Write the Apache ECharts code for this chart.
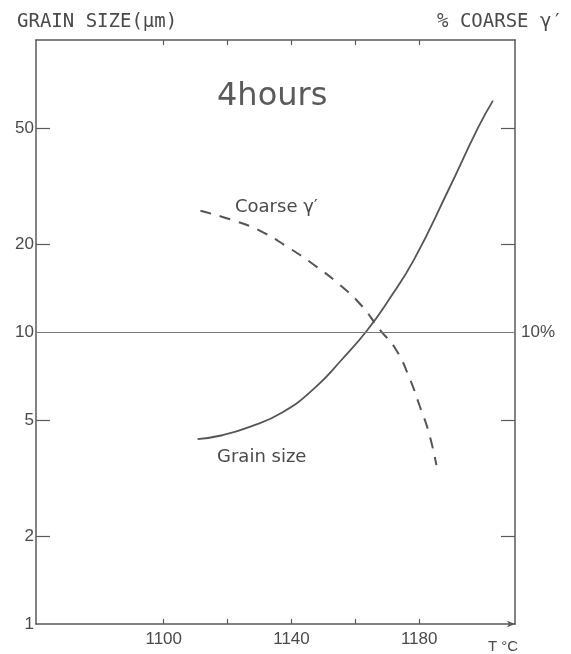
<!DOCTYPE html>
<html><head><meta charset="utf-8">
<script src="https://cdn.jsdelivr.net/npm/echarts@6/dist/echarts.min.js"></script>
<style>html,body{margin:0;padding:0;background:#fff}#c{width:571px;height:654px}</style>
</head><body><div id="c"></div>
<script>
// Temperature (°C) and grain size (µm) along the solid curve
const grainT = [1110.6, 1118.4, 1126.7, 1137.1, 1147.4, 1155.8, 1163.6, 1170.3, 1178.5, 1189.0, 1198.4, 1203.1];
const grainSize = [4.30, 4.43, 4.72, 5.30, 6.45, 8.05, 10.1, 12.8, 17.8, 30.4, 50, 62];
// Temperature (°C) and % coarse gamma prime along the dashed curve
const coarseT = [1111.5, 1122.4, 1130.2, 1138.6, 1147.0, 1154.8, 1161.7, 1167.6, 1172.6, 1176.9, 1180.1, 1182.9, 1185.4];
const coarsePct = [26.0, 24.0, 22.2, 19.6, 17.0, 14.6, 12.4, 10.2, 8.75, 6.98, 5.60, 4.57, 3.50];
// Ticks and labels
const xTicks = [1100, 1120, 1140, 1160, 1180];
const xLabels = [1100, 1140, 1180];
const yTicks = [2, 5, 20, 50];
const yLabels = [1, 2, 5, 10, 20, 50];
const rightLabels = [10];
const refLevel = 10;

const axisColor = '#5a5a5a';
const textColor = '#4a4a4a';

const chart = echarts.init(document.getElementById('c'), null, {renderer: 'canvas'});
const zip = (a, b) => a.map((v, i) => [v, b[i]]);
const tickFont = {color: textColor, fontFamily: 'Liberation Sans', fontSize: 17};

chart.setOption({
  animation: false,
  backgroundColor: '#fff',
  grid: {left: 36, right: 56, top: 40, bottom: 26, containLabel: false},
  xAxis: [{
    type: 'value', position: 'bottom', min: 1060, max: 1210, interval: 20,
    axisLine: {show: true, lineStyle: {color: axisColor, width: 1.5}, symbol: ['none', 'arrow'], symbolSize: [5, 8]},
    axisTick: {show: true, inside: true, length: 5, customValues: xTicks, lineStyle: {color: axisColor, width: 1.2}},
    axisLabel: Object.assign({customValues: xLabels, margin: 7, formatter: v => String(v)}, tickFont),
    splitLine: {show: false},
    name: 'T °C', nameLocation: 'end', nameGap: -12,
    nameTextStyle: {color: textColor, fontFamily: 'Liberation Sans', fontSize: 15, align: 'center', verticalAlign: 'top', padding: [15, 0, 0, 0]}
  }, {
    type: 'value', position: 'top', min: 1060, max: 1210, interval: 20,
    axisLine: {show: true, lineStyle: {color: axisColor, width: 1.5}},
    axisTick: {show: true, inside: true, length: 5, customValues: xTicks, lineStyle: {color: axisColor, width: 1.2}},
    axisLabel: {show: false},
    splitLine: {show: false}
  }],
  yAxis: [{
    type: 'log', logBase: 10, min: 1, max: 100, position: 'left',
    axisLine: {show: true, lineStyle: {color: axisColor, width: 1.5}},
    axisTick: {show: true, inside: true, length: 14, customValues: yTicks, lineStyle: {color: axisColor, width: 1.2}},
    axisLabel: Object.assign({customValues: yLabels, margin: 2}, tickFont),
    splitLine: {show: false}, minorTick: {show: false}
  }, {
    type: 'log', logBase: 10, min: 1, max: 100, position: 'right',
    axisLine: {show: true, lineStyle: {color: axisColor, width: 1.5}},
    axisTick: {show: true, inside: true, length: 14, customValues: yTicks, lineStyle: {color: axisColor, width: 1.2}},
    axisLabel: Object.assign({customValues: rightLabels, formatter: '{value}%', margin: 6}, tickFont),
    splitLine: {show: false}
  }],
  graphic: [
    {type: 'text', left: 17, top: 13, style: {text: 'GRAIN SIZE(µm)', fill: textColor, font: '19px "DejaVu Sans Mono"'}},
    {type: 'text', left: 437, top: 13, style: {text: '% COARSE γ′', fill: textColor, font: '19px "DejaVu Sans Mono"'}},
    {type: 'text', left: 217, top: 81, style: {text: '4hours', fill: '#5a5a5a', font: '32px "DejaVu Sans"'}},
    {type: 'text', left: 235, top: 198, style: {text: 'Coarse γ′', fill: textColor, font: '18px "DejaVu Sans"'}},
    {type: 'text', left: 217, top: 448, style: {text: 'Grain size', fill: textColor, font: '18px "DejaVu Sans"'}}
  ],
  series: [{
    name: 'Grain size', type: 'line', xAxisIndex: 0, yAxisIndex: 0,
    data: zip(grainT, grainSize), smooth: 0.5, symbol: 'none',
    lineStyle: {color: '#555', width: 1.8},
    markLine: {silent: true, symbol: 'none', label: {show: false},
      lineStyle: {color: '#777', width: 1.2, type: 'solid'}, data: [{yAxis: refLevel}]}
  }, {
    name: 'Coarse γ′', type: 'line', xAxisIndex: 0, yAxisIndex: 1,
    data: zip(coarseT, coarsePct), smooth: 0.5, symbol: 'none',
    lineStyle: {color: '#555', width: 2, type: [11, 9]}
  }]
});
</script></body></html>
